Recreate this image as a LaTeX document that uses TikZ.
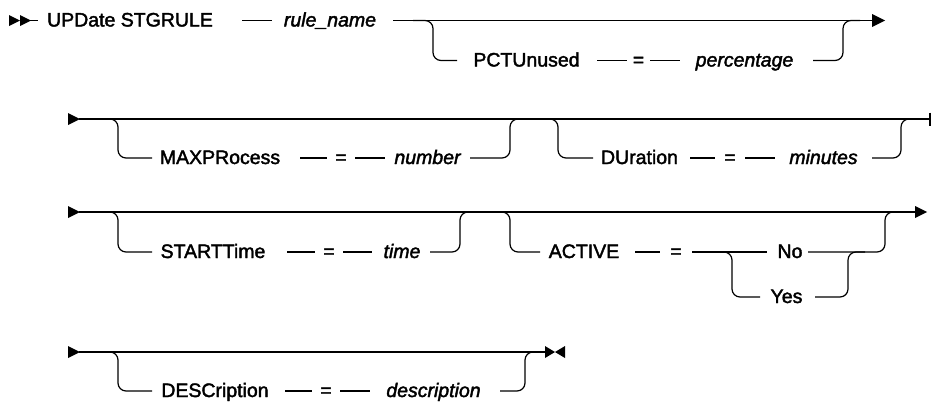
\documentclass[tikz,border=0pt]{standalone}
\usepackage{fontspec}
\setmainfont{Liberation Sans}
\newfontfamily\railfont{Liberation Sans}[FakeBold=2]
\begin{document}
\begin{tikzpicture}[x=1pt,y=-1pt,
  rail/.style={line width=1.2pt, line cap=butt},
  branch/.style={line width=1.2pt, rounded corners=8pt},
  kw/.style={anchor=base, inner sep=0pt, font=\railfont\fontsize{19.5}{22}\selectfont},
  var/.style={anchor=base, inner sep=0pt, font=\railfont\itshape\fontsize{19.5}{22}\selectfont},
  tip/.style={fill=black, draw=none}]
\useasboundingbox (0,0) rectangle (931,402);

% ---------------- Row 1 ----------------
\fill[tip] (9,15) -- (20,20.5) -- (9,26) -- cycle;
\fill[tip] (20,15) -- (31,20.5) -- (20,26) -- cycle;
\draw[rail] (30,20.5) -- (38,20.5);
\node[kw] (cmd) at (130,26.5) {UPDate STGRULE};
\draw[rail] (242,20.5) -- (272,20.5);
\node[var] (rulename) at (330,26.5) {rule\_name};
\draw[rail] (393,20.5) -- (872,20.5);
\fill[tip] (872,14) -- (885,20.5) -- (872,27) -- cycle;
\draw[branch] (413,20.5) -- (433,20.5) -- (433,60.5) -- (457,60.5);
\node[kw] (pct) at (526.5,66.5) {PCTUnused};
\draw[rail] (597,60.5) -- (627,60.5);
\node[kw] (eq1) at (638.5,66.5) {=};
\draw[rail] (650,60.5) -- (680,60.5);
\node[var] (perc) at (744.5,66.5) {percentage};
\draw[branch] (813,60.5) -- (843,60.5) -- (843,20.5) -- (860,20.5);

% ---------------- Row 2 ----------------
\fill[tip] (68,113) -- (80,119) -- (68,125) -- cycle;
\draw[rail] (79,119) -- (930,119);
\draw[rail] (930,112.5) -- (930,125.5);
\draw[branch] (100,119) -- (118,119) -- (118,158) -- (152,158);
\node[kw] (maxp) at (220,164) {MAXPRocess};
\draw[rail] (300,158) -- (327,158);
\node[kw] (eq2) at (341,164) {=};
\draw[rail] (355,158) -- (385,158);
\node[var] (num) at (427.5,164) {number};
\draw[branch] (470,158) -- (510,158) -- (510,119) -- (525,119);
\draw[branch] (540,119) -- (558,119) -- (558,158) -- (593,158);
\node[kw] (dur) at (639.5,164) {DUration};
\draw[rail] (690,158) -- (715,158);
\node[kw] (eq3) at (730,164) {=};
\draw[rail] (745,158) -- (775,158);
\node[var] (mins) at (823.5,164) {minutes};
\draw[branch] (872,158) -- (901,158) -- (901,119) -- (915,119);

% ---------------- Row 3 ----------------
\fill[tip] (68,206) -- (80,212) -- (68,218) -- cycle;
\draw[rail] (79,212) -- (915,212);
\fill[tip] (915,206) -- (927,212) -- (915,218) -- cycle;
\draw[branch] (100,212) -- (118,212) -- (118,252) -- (152,252);
\node[kw] (start) at (213,258) {STARTTime};
\draw[rail] (287,252) -- (315,252);
\node[kw] (eq4) at (329,258) {=};
\draw[rail] (343,252) -- (372,252);
\node[var] (time) at (402,258) {time};
\draw[branch] (430,252) -- (460,252) -- (460,212) -- (475,212);
\draw[branch] (495,212) -- (510,212) -- (510,252) -- (540,252);
\node[kw] (active) at (584,258) {ACTIVE};
\draw[rail] (635,252) -- (660,252);
\node[kw] (eq5) at (676,258) {=};
\draw[rail] (692,252) -- (767,252);
\node[kw] (no) at (790,258) {No};
\draw[branch] (808,252) -- (885,252) -- (885,212) -- (900,212);
\draw[branch] (715,252) -- (732,252) -- (732,297) -- (760,297);
\node[kw] (yes) at (786.5,303) {Yes};
\draw[branch] (815,297) -- (848,297) -- (848,252) -- (865,252);

% ---------------- Row 4 ----------------
\fill[tip] (68,346) -- (80,352) -- (68,358) -- cycle;
\draw[rail] (79,352) -- (546,352);
\fill[tip] (545,346) -- (555,352) -- (545,358) -- cycle;
\fill[tip] (565,346) -- (555,352) -- (565,358) -- cycle;
\draw[branch] (100,352) -- (118,352) -- (118,391) -- (152,391);
\node[kw] (desc) at (215,397) {DESCription};
\draw[rail] (285,391) -- (312,391);
\node[kw] (eq6) at (326,397) {=};
\draw[rail] (340,391) -- (370,391);
\node[var] (descv) at (433.5,397) {description};
\draw[branch] (500,391) -- (525,391) -- (525,352) -- (540,352);
\end{tikzpicture}
\end{document}
